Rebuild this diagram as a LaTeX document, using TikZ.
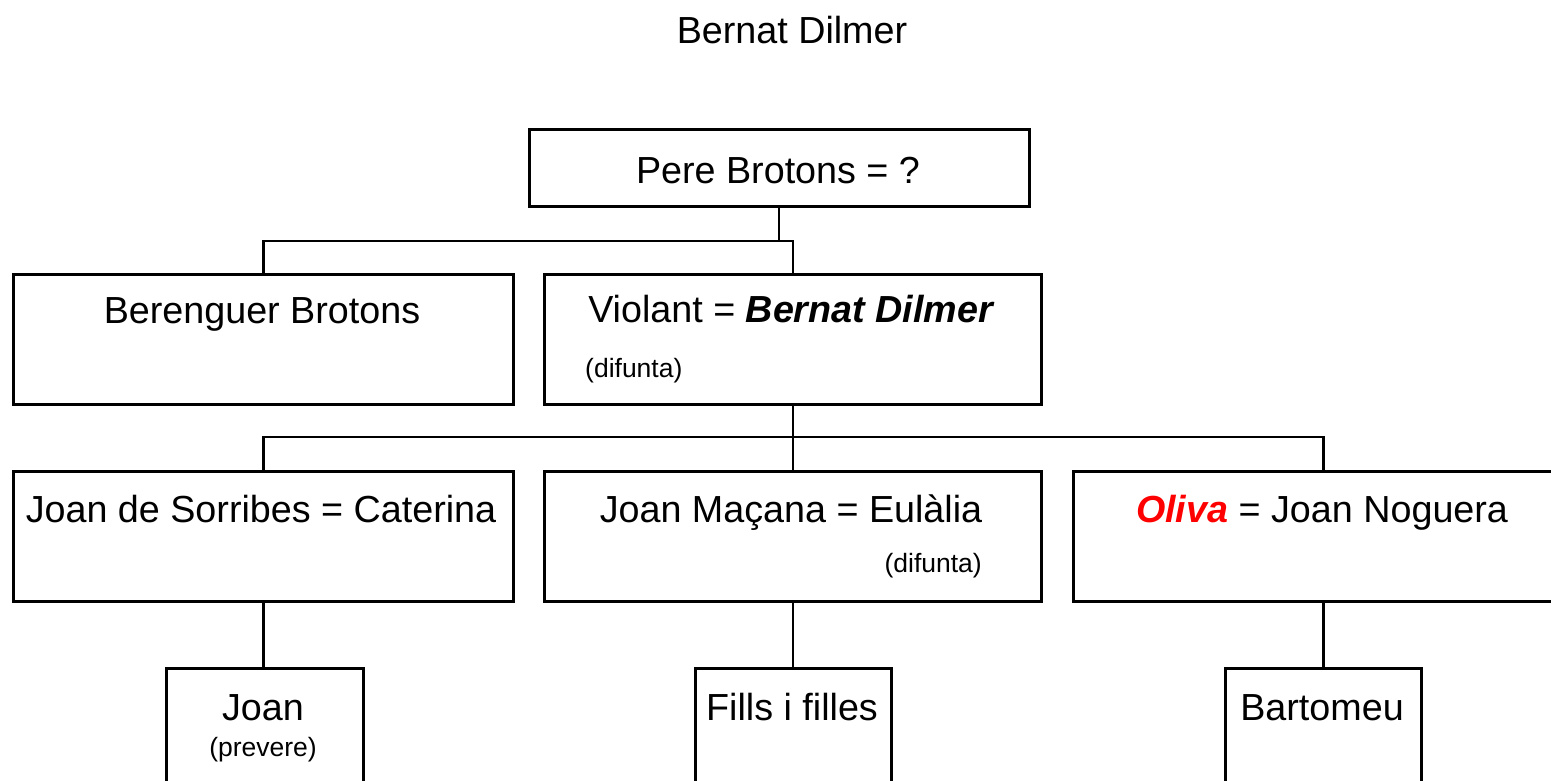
\documentclass[tikz,border=0pt]{standalone}
\usepackage{fontspec}
\setmainfont{Liberation Sans}
\definecolor{namered}{RGB}{255,0,0}
\begin{document}
\begin{tikzpicture}[x=1pt,y=-1pt,
  box/.style={draw, line width=2.8pt, rectangle, inner sep=0pt, anchor=north west},
  link/.style={line width=2.8pt},
  big/.style={inner sep=0pt, font=\fontsize{37.7}{44}\selectfont},
  small/.style={inner sep=0pt, font=\fontsize{26.5}{31}\selectfont}]
\useasboundingbox (0,0) rectangle (1551,781);
\clip (0,0) rectangle (1551,781);
\fill[white] (0,0) rectangle (1551,781);
% title
\node[big, anchor=base] (title) at (792,44) {Bernat Dilmer};
% boxes
\node[box, minimum width=500pt, minimum height=77pt] (pere) at (528,128) {};
\node[box, minimum width=500pt, minimum height=130pt] (ber) at (12,273) {};
\node[box, minimum width=497pt, minimum height=130pt] (vio) at (543,273) {};
\node[box, minimum width=500pt, minimum height=130pt] (js) at (12,470) {};
\node[box, minimum width=497pt, minimum height=130pt] (jm) at (543,470) {};
\node[box, minimum width=500pt, minimum height=130pt] (on) at (1072,470) {};
\node[box, minimum width=197pt, minimum height=160pt] (joan) at (165,667) {};
\node[box, minimum width=196pt, minimum height=160pt] (fills) at (694,667) {};
\node[box, minimum width=196pt, minimum height=160pt] (bart) at (1224,667) {};
% texts
\node[big, anchor=base] (pereT) at (778,183) {Pere Brotons = ?};
\node[big, anchor=base] (berT) at (262,323) {Berenguer Brotons};
\node[big, anchor=base] (vioT) at (791.5,322) {Violant = \textbf{\textit{Bernat Dilmer}}};
\node[small, anchor=base west] (vioS) at (585,377) {(difunta)};
\node[big, anchor=base] (jsT) at (261,522) {Joan de Sorribes = Caterina};
\node[big, anchor=base] (jmT) at (791,522) {Joan Maçana = Eulàlia};
\node[small, anchor=base east] (jmS) at (982,572) {(difunta)};
\node[big, anchor=base] (onT) at (1322,522) {{\color{namered}\textbf{\textit{Oliva}}} = Joan Noguera};
\node[big, anchor=base] (joanT) at (263,720) {Joan};
\node[small, anchor=base] (joanS) at (263,756) {(prevere)};
\node[big, anchor=base] (fillsT) at (792,720) {Fills i filles};
\node[big, anchor=base] (bartT) at (1322,720) {Bartomeu};
% connectors
\coordinate (bar1) at (779,241);
\coordinate (bar2) at (792,437);
\draw[link] (pere.south -| bar1) -- (bar1);
\draw[link] (ber.north) |- (bar1 -| vio.north) -- (vio.north);
\draw[link] (vio.south) -- (jm.north);
\draw[link] (js.north) |- (bar2 -| on.north) -- (on.north);
\draw[link] (js.south) -- (js.south |- joan.north);
\draw[link] (jm.south) -- (jm.south |- fills.north);
\draw[link] (on.south) -- (on.south |- bart.north);
\end{tikzpicture}
\end{document}
